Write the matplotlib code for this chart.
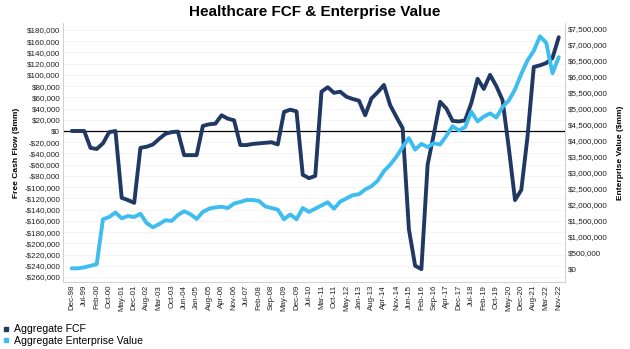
import matplotlib
matplotlib.use("Agg")
import matplotlib.pyplot as plt
from matplotlib.lines import Line2D
from matplotlib.ticker import FuncFormatter
import numpy as np

plt.rcParams['font.family'] = ['Liberation Sans', 'DejaVu Sans']

title = "Healthcare FCF & Enterprise Value"
fcf_name = "Aggregate FCF"
ev_name = "Aggregate Enterprise Value"

tick_labels = ["Dec-98", "Jul-99", "Feb-00", "Oct-00", "May-01", "Dec-01", "Aug-02", "Mar-03",
               "Oct-03", "Jun-04", "Jan-05", "Aug-05", "Apr-06", "Nov-06", "Jul-07", "Feb-08",
               "Sep-08", "May-09", "Dec-09", "Jul-10", "Mar-11", "Oct-11", "May-12", "Jan-13",
               "Aug-13", "Apr-14", "Nov-14", "Jun-15", "Feb-16", "Sep-16", "Apr-17", "Dec-17",
               "Jul-18", "Feb-19", "Oct-19", "May-20", "Dec-20", "Aug-21", "Mar-22", "Nov-22"]

# Free cash flow, $mm (two observations per labelled interval)
fcf = [0, 0, 0, -30000, -32000, -22000, -2000, 0, -119000, -123000,
       -128000, -30000, -28000, -24000, -14000, -5000, -2000, -1000, -43000, -43000,
       -43000, 9000, 12000, 13000, 28000, 22000, 19000, -25000, -25000, -23000,
       -22000, -21000, -20000, -24000, 34000, 38000, 35000, -78000, -84000, -80000,
       70000, 78000, 68000, 70000, 61000, 57000, 54000, 28000, 58000, 69000,
       82000, 46000, 25000, 5000, -175000, -240000, -246000, -60000, -5000, 52000,
       40000, 18000, 17000, 19000, 50000, 93000, 75000, 100000, 80000, 55000,
       -30000, -123000, -105000, -10000, 114000, 117000, 121000, 130000, 167000]

# Enterprise value, $mm
ev = [20000, 20000, 50000, 100000, 150000, 1550000, 1620000, 1760000, 1580000, 1650000,
      1620000, 1720000, 1430000, 1300000, 1400000, 1520000, 1500000, 1680000, 1800000, 1710000,
      1560000, 1780000, 1880000, 1920000, 1940000, 1900000, 2040000, 2090000, 2150000, 2150000,
      2120000, 1950000, 1900000, 1850000, 1550000, 1700000, 1550000, 1900000, 1780000, 1880000,
      1980000, 2080000, 1880000, 2100000, 2200000, 2300000, 2330000, 2480000, 2580000, 2750000,
      3050000, 3250000, 3500000, 3800000, 4080000, 3720000, 3900000, 3800000, 3920000, 3880000,
      4150000, 4450000, 4320000, 4420000, 4900000, 4600000, 4750000, 4850000, 4720000, 5050000,
      5250000, 5600000, 6080000, 6500000, 6800000, 7250000, 7050000, 6100000, 6600000]

navy = "#1F3864"
light = "#3EBDEF"

fig = plt.figure(figsize=(6.3, 3.49), dpi=100)
ax = fig.add_axes([0.1, 0.192, 0.7968, 0.742])
ax2 = ax.twinx()

x = np.arange(len(fcf))
ax.plot(x, fcf, color=navy, lw=2.8, solid_capstyle='round', solid_joinstyle='round', zorder=4)
ax2.plot(x, ev, color=light, lw=2.8, solid_capstyle='round', solid_joinstyle='round', zorder=3)

ax.axhline(0, color="black", lw=0.9, zorder=3)

ax.set_xlim(-1.4, len(fcf) - 1 + 1.0)
ax.set_ylim(-268900, 192300)
ax2.set_ylim(-405000, 7666000)

ax.set_yticks(np.arange(-260000, 180001, 20000))
ax2.set_yticks(np.arange(0, 7500001, 500000))

def money(v, pos):
    v = int(round(v))
    if v < 0:
        return "-${:,}".format(-v)
    return "${:,}".format(v)

ax.yaxis.set_major_formatter(FuncFormatter(money))
ax2.yaxis.set_major_formatter(FuncFormatter(money))

tick_pos = np.linspace(0, len(fcf) - 1, len(tick_labels))
ax.set_xticks(tick_pos)
ax.set_xticklabels(tick_labels, rotation=90)

ax.grid(axis='y', color="#F2F2F2", lw=0.6)
ax.set_axisbelow(True)

for a in (ax, ax2):
    a.tick_params(axis='both', length=0, labelsize=5.8, colors="#222222", pad=2)
    a.spines['top'].set_visible(False)
    for s in ('left', 'right', 'bottom'):
        a.spines[s].set_color("#D0D0D0")
        a.spines[s].set_linewidth(0.7)
ax.tick_params(axis='x', labelsize=5.7, pad=2)

ax.set_ylabel("Free Cash Flow ($mm)", fontsize=6, fontweight='bold', labelpad=3)
ax2.set_ylabel("Enterprise Value ($mm)", fontsize=6, fontweight='bold', labelpad=7)

fig.suptitle(title, fontsize=11, fontweight='bold', y=0.987, x=0.5)

handles = [Line2D([], [], marker='s', ls='none', color=navy, markersize=3.2),
           Line2D([], [], marker='s', ls='none', color=light, markersize=3.2)]
fig.legend(handles, [fcf_name, ev_name], loc='lower left', bbox_to_anchor=(0.0, 0.0),
           frameon=False, fontsize=7.6, handlelength=0.6, handletextpad=0.4,
           labelspacing=0.15, borderaxespad=0.2, borderpad=0.1)

fig.savefig("out.png", dpi=100)
